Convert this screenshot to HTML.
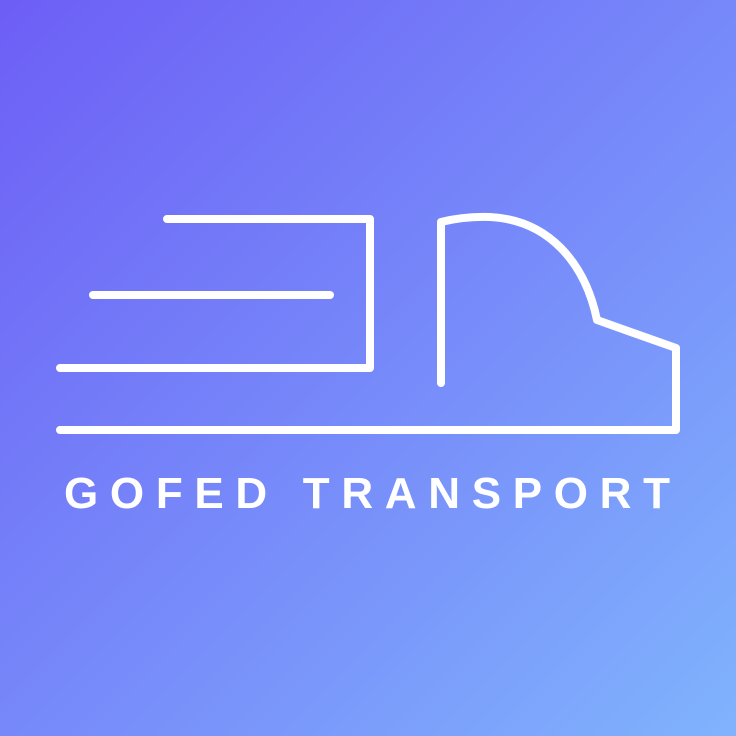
<!DOCTYPE html>
<html><head><meta charset="utf-8"><style>
html,body{margin:0;padding:0;width:736px;height:736px;overflow:hidden}
</style></head><body>
<svg width="736" height="736" viewBox="0 0 736 736" xmlns="http://www.w3.org/2000/svg">
<defs><linearGradient id="bg" x1="0" y1="0" x2="1" y2="1">
<stop offset="0" stop-color="#6d5ef6"/><stop offset="1" stop-color="#80b3fd"/></linearGradient></defs>
<rect width="736" height="736" fill="url(#bg)"/>
<g fill="none" stroke="#fff" stroke-width="8" stroke-linecap="round" stroke-linejoin="round">
<path d="M167,219 H370 V368 H60"/>
<path d="M93,295 H330"/>
<path d="M441,383 V222 Q465,216 490,217 C548,220 585,262 597,320 L676,348 V430 H60"/>
</g>
<text x="64" y="508" textLength="606" lengthAdjust="spacing" font-family="Liberation Sans, sans-serif" font-weight="bold" font-size="44" fill="#fff">GOFED TRANSPORT</text>
</svg>
</body></html>
